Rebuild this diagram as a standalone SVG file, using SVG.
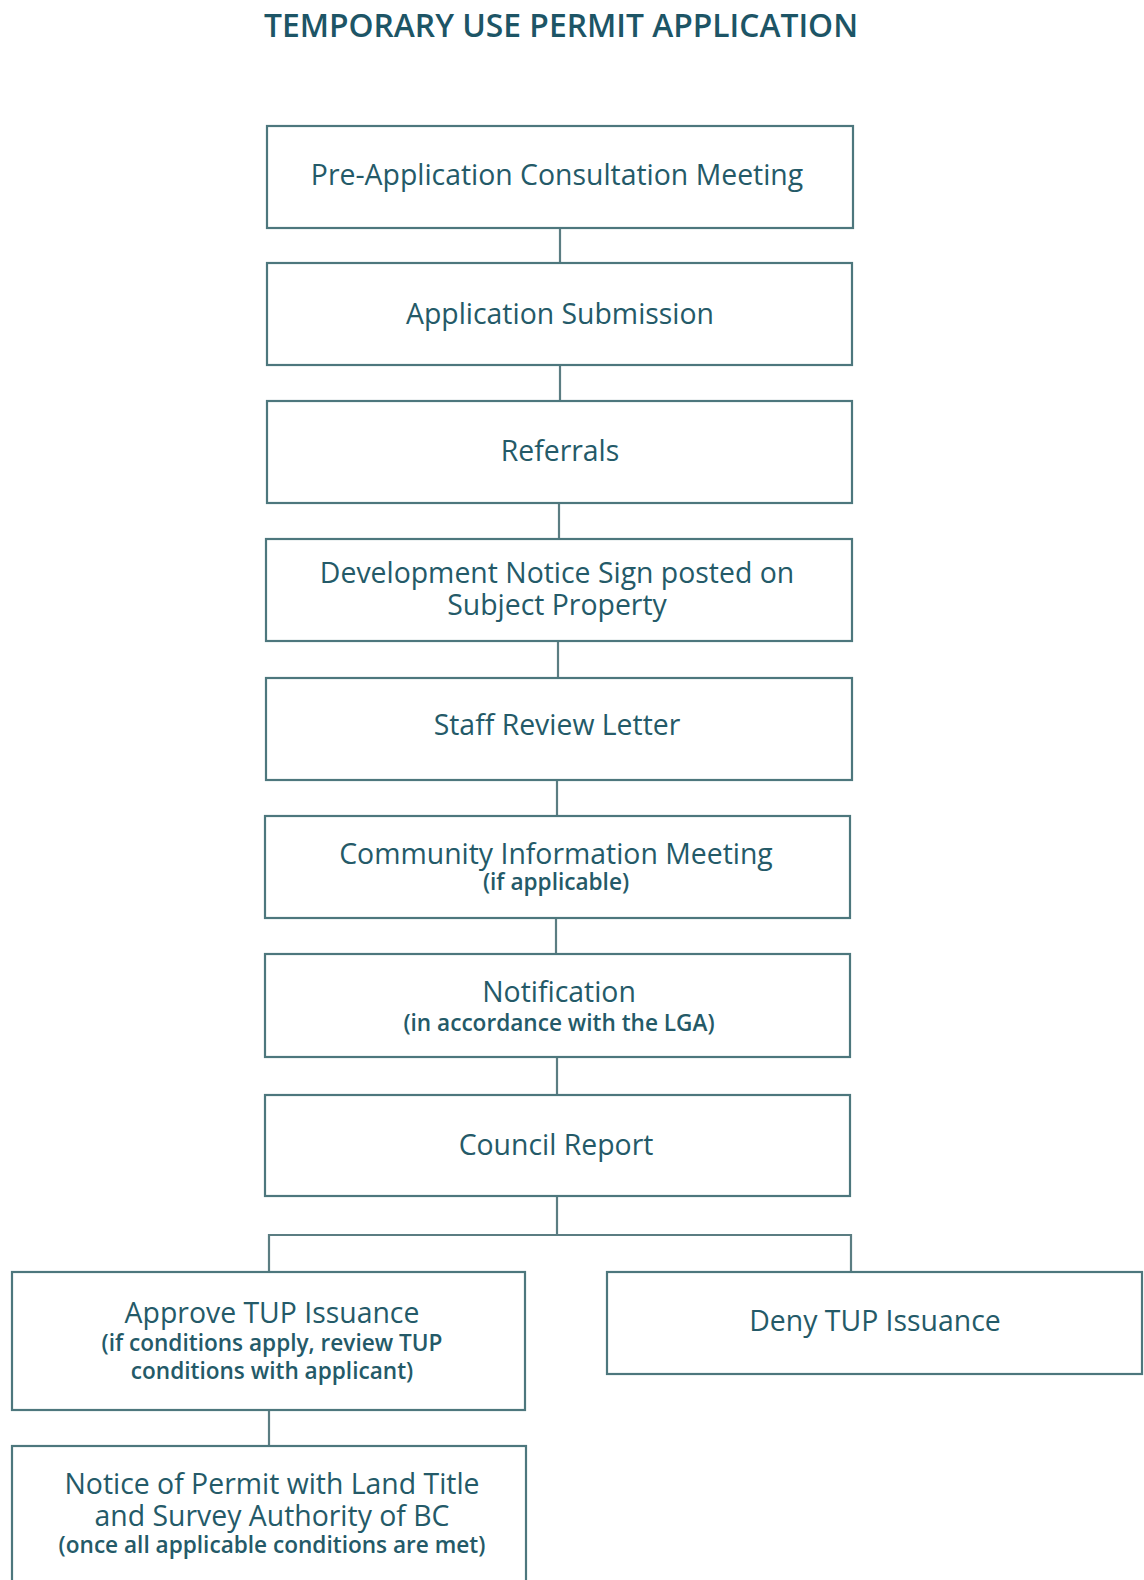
<svg xmlns="http://www.w3.org/2000/svg" width="1144" height="1580" viewBox="0 0 1144 1580">
<style>
.box{fill:#fff;stroke:#4d777d;stroke-width:2.2}
.t{font-family:"Open Sans","Noto Sans",sans-serif;font-size:28.4px;fill:#245a68;text-anchor:middle}
.s{font-family:"Open Sans","Noto Sans",sans-serif;font-size:22.6px;font-weight:600;fill:#245a68;text-anchor:middle}
.title{font-family:"Open Sans","Noto Sans",sans-serif;font-size:31.8px;font-weight:600;fill:#1d5566;text-anchor:middle}
.c{fill:none;stroke:#5b7d82;stroke-width:2.2}
</style>
<rect width="1144" height="1580" fill="#fff"/>
<text class="title" x="561" y="37">TEMPORARY USE PERMIT APPLICATION</text>
<g id="connectors">
<line class="c" x1="560" y1="228" x2="560" y2="263"/>
<line class="c" x1="560" y1="365" x2="560" y2="401"/>
<line class="c" x1="559" y1="503" x2="559" y2="539"/>
<line class="c" x1="558" y1="641" x2="558" y2="678"/>
<line class="c" x1="557" y1="780" x2="557" y2="816"/>
<line class="c" x1="556" y1="918" x2="556" y2="954"/>
<line class="c" x1="557" y1="1057" x2="557" y2="1095"/>
<polyline class="c" points="557,1196 557,1235"/>
<polyline class="c" points="269,1272 269,1235 851,1235 851,1272"/>
<line class="c" x1="269" y1="1410" x2="269" y2="1446"/>
</g>
<g id="n1"><rect class="box" x="267" y="126" width="586" height="102"/><text class="t" x="557" y="185">Pre-Application Consultation Meeting</text></g>
<g id="n2"><rect class="box" x="267" y="263" width="585" height="102"/><text class="t" x="560" y="324">Application Submission</text></g>
<g id="n3"><rect class="box" x="267" y="401" width="585" height="102"/><text class="t" x="560" y="461">Referrals</text></g>
<g id="n4"><rect class="box" x="266" y="539" width="586" height="102"/><text class="t" x="557" y="583">Development Notice Sign posted on</text><text class="t" x="557" y="615">Subject Property</text></g>
<g id="n5"><rect class="box" x="266" y="678" width="586" height="102"/><text class="t" x="557" y="735">Staff Review Letter</text></g>
<g id="n6"><rect class="box" x="265" y="816" width="585" height="102"/><text class="t" x="556" y="864">Community Information Meeting</text><text class="s" x="556" y="890">(if applicable)</text></g>
<g id="n7"><rect class="box" x="265" y="954" width="585" height="103"/><text class="t" x="559" y="1002">Notification</text><text class="s" x="559" y="1031">(in accordance with the LGA)</text></g>
<g id="n8"><rect class="box" x="265" y="1095" width="585" height="101"/><text class="t" x="556" y="1155">Council Report</text></g>
<g id="n9"><rect class="box" x="12" y="1272" width="513" height="138"/><text class="t" x="272" y="1323">Approve TUP Issuance</text><text class="s" x="272" y="1351">(if conditions apply, review TUP</text><text class="s" x="272" y="1379">conditions with applicant)</text></g>
<g id="n10"><rect class="box" x="607" y="1272" width="535" height="102"/><text class="t" x="875" y="1331">Deny TUP Issuance</text></g>
<g id="n11"><rect class="box" x="12" y="1446" width="514" height="140"/><text class="t" x="272" y="1494">Notice of Permit with Land Title</text><text class="t" x="272" y="1526">and Survey Authority of BC</text><text class="s" x="272" y="1553">(once all applicable conditions are met)</text></g>
</svg>
